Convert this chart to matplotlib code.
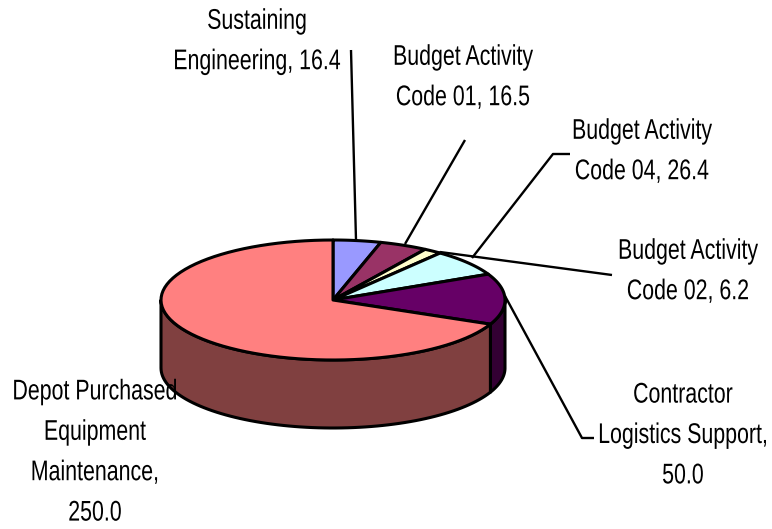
import numpy as np
import matplotlib
matplotlib.use('Agg')
import matplotlib.pyplot as plt
from matplotlib.patches import Polygon
from matplotlib.patheffects import AbstractPathEffect
from matplotlib.transforms import Affine2D

plt.rcParams['font.family'] = ['Liberation Sans', 'DejaVu Sans']

labels = ['Sustaining\nEngineering, 16.4', 'Budget Activity\nCode 01, 16.5', 'Budget Activity\nCode 02, 6.2',
          'Budget Activity\nCode 04, 26.4', 'Contractor\nLogistics Support,\n50.0',
          'Depot Purchased\nEquipment\nMaintenance,\n250.0']
values = [16.4, 16.5, 6.2, 26.4, 50.0, 250.0]
top_colors = ['#9999ff', '#993366', '#ffffcc', '#ccffff', '#660066', '#ff8080']
side_colors = ['#4c4c80', '#4c1933', '#808066', '#668080', '#330033', '#804040']

# position du camembert en pixels
cx, cy = 333, 300
rx, ry = 172, 60
depth = 68

label_pos = [(257, 42), (463, 78), (688, 272), (642, 152), (683, 436), (95, 453)]
leaders = [
    [(356, 240), (351, 50)],
    [(405, 244), (465, 140)],
    [(440, 252), (612, 275)],
    [(472, 258), (553, 154), (570, 154)],
    [(505, 296), (582, 438), (594, 438)],
]


class Narrow(AbstractPathEffect):
    # police etroite absente: on comprime le texte en x autour de son ancre
    def __init__(self, x0, sx):
        super().__init__()
        self.x0 = x0
        self.sx = sx

    def draw_path(self, renderer, gc, tpath, affine, rgbFace=None):
        squeeze = Affine2D().translate(-self.x0, 0).scale(self.sx, 1).translate(self.x0, 0)
        renderer.draw_path(gc, tpath, affine + squeeze, rgbFace)


def rim(a0, a1, n=80):
    # angles en degres, sens horaire depuis le haut
    t = np.radians(np.linspace(a0, a1, n))
    return cx + rx * np.sin(t), cy - ry * np.cos(t)


fig = plt.figure(figsize=(7.72, 5.29), dpi=100)
ax = fig.add_axes([0, 0, 1, 1])
ax.set_xlim(0, 772)
ax.set_ylim(529, 0)
ax.axis('off')

edges = np.concatenate([[0], np.cumsum(values)]) / sum(values) * 360

# paroi du cylindre (seulement la moitie avant, de 90 a 270 degres)
for i in range(len(values)):
    a0, a1 = max(edges[i], 90), min(edges[i + 1], 270)
    if a0 >= a1:
        continue
    x, y = rim(a0, a1)
    pts = np.concatenate([np.c_[x, y], np.c_[x[::-1], y[::-1] + depth]])
    ax.add_patch(Polygon(pts, closed=True, facecolor=side_colors[i], edgecolor='black', lw=2.2, joinstyle='round'))

# dessus
for i in range(len(values)):
    x, y = rim(edges[i], edges[i + 1])
    pts = np.concatenate([[(cx, cy)], np.c_[x, y]])
    ax.add_patch(Polygon(pts, closed=True, facecolor=top_colors[i], edgecolor='black', lw=2.2, joinstyle='round'))

for line in leaders:
    xs, ys = zip(*line)
    ax.plot(xs, ys, color='black', lw=1.7, solid_capstyle='butt')

for text, (tx, ty) in zip(labels, label_pos):
    t = ax.text(tx, ty, text, ha='center', va='center', fontsize=20.5, color='black', linespacing=1.72)
    t.set_path_effects([Narrow(ax.transData.transform((tx, ty))[0], 0.75)])

fig.savefig('out.png', dpi=100)
